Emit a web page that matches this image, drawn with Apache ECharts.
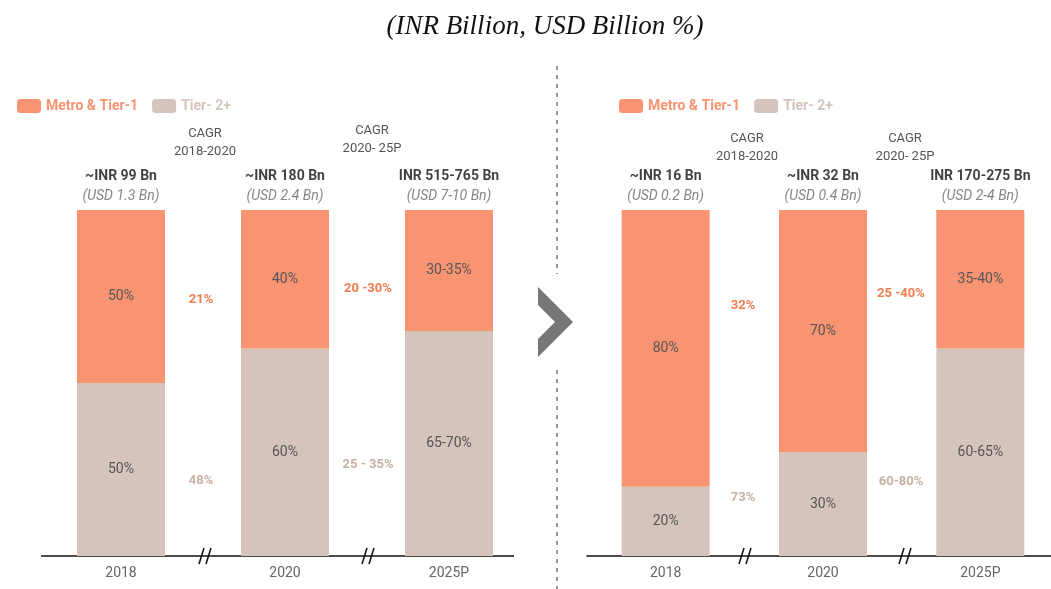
<!DOCTYPE html>
<html>
<head>
<meta charset="utf-8">
<script src="https://cdn.jsdelivr.net/npm/echarts@6/dist/echarts.min.js"></script>
<style>
  html, body { margin: 0; padding: 0; background: #fff; overflow: hidden; }
  #chart { width: 1070px; height: 589px; }
</style>
</head>
<body>
<div id="chart"></div>
<script>
var chartDom = document.getElementById('chart');
var myChart = echarts.init(chartDom, null, { renderer: 'canvas' });

var ORANGE = '#F89472';
var TAN = '#D5C4BB';
var ORANGE_TXT = '#F47A50';
var TAN_TXT = '#C7B0A3';

// categories
var years = ['2018', '2020', '2025P'];

// left panel: overall market (shares used for bar heights)
var leftMetro = [50, 40, 35];
var leftTier2 = [50, 60, 65];
var leftMetroLabels = ['50%', '40%', '30-35%'];
var leftTier2Labels = ['50%', '60%', '65-70%'];
var leftTotals = ['~INR 99 Bn', '~INR 180 Bn', 'INR 515-765 Bn'];
var leftUsd = ['(USD 1.3 Bn)', '(USD 2.4 Bn)', '(USD 7-10 Bn)'];
var leftCagrMetro = ['21%', '20 -30%'];
var leftCagrTier2 = ['48%', '25 - 35%'];

// right panel
var rightMetro = [80, 70, 40];
var rightTier2 = [20, 30, 60];
var rightMetroLabels = ['80%', '70%', '35-40%'];
var rightTier2Labels = ['20%', '30%', '60-65%'];
var rightTotals = ['~INR 16 Bn', '~INR 32 Bn', 'INR 170-275 Bn'];
var rightUsd = ['(USD 0.2 Bn)', '(USD 0.4 Bn)', '(USD 2-4 Bn)'];
var rightCagrMetro = ['32%', '25 -40%'];
var rightCagrTier2 = ['73%', '60-80%'];

var cagrPeriods = ['CAGR\n2018-2020', 'CAGR\n2020- 25P'];

function labelFrom(arr) {
    return function (p) { return arr[p.dataIndex]; };
}

function topFrom(totals, usd) {
    return function (p) {
        return '{a|' + totals[p.dataIndex] + '}\n{b|' + usd[p.dataIndex] + '}';
    };
}

function barSeries(name, idx, data, labels, color) {
    return {
        name: name,
        type: 'bar',
        stack: 's' + idx,
        xAxisIndex: idx,
        yAxisIndex: idx,
        barWidth: 88,
        data: data,
        itemStyle: { color: color },
        label: {
            show: true,
            position: 'inside',
            color: '#555',
            fontSize: 14,
            fontFamily: 'Roboto',
            formatter: labelFrom(labels)
        }
    };
}

function topSeries(idx, totals, usd) {
    return {
        type: 'scatter',
        xAxisIndex: idx,
        yAxisIndex: idx,
        symbolSize: 0,
        data: [100, 100, 100],
        silent: true,
        label: {
            show: true,
            position: 'top',
            distance: 4,
            formatter: topFrom(totals, usd),
            rich: {
                a: { fontSize: 14, fontWeight: 'bold', color: '#111', fontFamily: 'Roboto', lineHeight: 20 },
                b: { fontSize: 14, fontStyle: 'italic', color: '#666', fontFamily: 'Roboto', lineHeight: 20 }
            }
        }
    };
}

function xAxisFor(idx, showLine) {
    return {
        type: 'category',
        gridIndex: idx,
        data: years,
        axisLine: { show: showLine, lineStyle: { color: '#111', width: 1.5 } },
        axisTick: { show: false },
        axisLabel: { color: '#666', fontSize: 14, fontFamily: 'Roboto', margin: 10 }
    };
}

function yAxisFor(idx) {
    return { type: 'value', gridIndex: idx, min: 0, max: 100, show: false, splitLine: { show: false } };
}

function cagrTexts(xs, metroY, tier2Y, periodY, metro, tier2) {
    var out = [];
    for (var i = 0; i < xs.length; i++) {
        out.push({ type: 'text', style: { text: metro[i], x: xs[i], y: metroY[i], align: 'center', verticalAlign: 'middle', fill: ORANGE_TXT, font: 'bold 13px Roboto' } });
        out.push({ type: 'text', style: { text: tier2[i], x: xs[i], y: tier2Y[i], align: 'center', verticalAlign: 'middle', fill: TAN_TXT, font: 'bold 13px Roboto' } });
        out.push({ type: 'text', style: { text: cagrPeriods[i], x: xs[i] + 4, y: periodY[i], align: 'center', verticalAlign: 'middle', fill: '#555', font: '13px Roboto', lineHeight: 18 } });
    }
    return out;
}

function breakMark(x, y) {
    return [
        { type: 'line', shape: { x1: x - 6, y1: y + 8, x2: x - 1, y2: y - 8 }, style: { stroke: '#111', lineWidth: 1.6 } },
        { type: 'line', shape: { x1: x + 1, y1: y + 8, x2: x + 6, y2: y - 8 }, style: { stroke: '#111', lineWidth: 1.6 } }
    ];
}

var graphics = [];
// left baseline (shorter than the category grid on the right end)
graphics.push({ type: 'line', shape: { x1: 41, y1: 556, x2: 514, y2: 556 }, style: { stroke: '#111', lineWidth: 1.5 } });
graphics = graphics.concat(cagrTexts([201, 368], [300, 289], [481, 465], [143, 140], leftCagrMetro, leftCagrTier2));
graphics = graphics.concat(cagrTexts([743, 901], [306, 294], [498, 482], [148, 148], rightCagrMetro, rightCagrTier2));
graphics = graphics.concat(breakMark(205, 556), breakMark(368, 556), breakMark(745, 556), breakMark(905, 556));
graphics.push({ type: 'line', shape: { x1: 557, y1: 66, x2: 557, y2: 274 }, style: { stroke: '#777', lineWidth: 1.5, lineDash: [4, 5] } });
graphics.push({ type: 'line', shape: { x1: 557, y1: 370, x2: 557, y2: 589 }, style: { stroke: '#777', lineWidth: 1.5, lineDash: [4, 5] } });
graphics.push({ type: 'polygon', shape: { points: [[538, 287], [573, 322], [538, 357], [538, 339], [555, 322], [538, 305]] }, style: { fill: '#777' } });

var option = {
    backgroundColor: '#fff',
    animation: false,
    title: {
        text: '(INR Billion, USD Billion %)',
        left: 540,
        top: 8,
        textAlign: 'center',
        textStyle: { fontFamily: 'Liberation Serif', fontStyle: 'italic', fontWeight: 'normal', fontSize: 27, color: '#111' }
    },
    legend: [{
        left: 12, top: 94,
        itemWidth: 24, itemHeight: 14, itemGap: 14,
        data: [
            { name: 'Metro & Tier-1', textStyle: { color: ORANGE } },
            { name: 'Tier- 2+', textStyle: { color: TAN } }
        ],
        textStyle: { fontSize: 14, fontWeight: 'bold', fontFamily: 'Roboto' }
    }, {
        left: 614, top: 94,
        itemWidth: 24, itemHeight: 14, itemGap: 14,
        data: [
            { name: 'Metro & Tier-1', textStyle: { color: ORANGE } },
            { name: 'Tier- 2+', textStyle: { color: TAN } }
        ],
        textStyle: { fontSize: 14, fontWeight: 'bold', fontFamily: 'Roboto' }
    }],
    grid: [
        { left: 39, width: 492, top: 210, bottom: 33 },
        { left: 587, width: 472, top: 210, bottom: 33 }
    ],
    xAxis: [xAxisFor(0, false), xAxisFor(1, true)],
    yAxis: [yAxisFor(0), yAxisFor(1)],
    series: [
        barSeries('Tier- 2+', 0, leftTier2, leftTier2Labels, TAN),
        barSeries('Metro & Tier-1', 0, leftMetro, leftMetroLabels, ORANGE),
        topSeries(0, leftTotals, leftUsd),
        barSeries('Tier- 2+', 1, rightTier2, rightTier2Labels, TAN),
        barSeries('Metro & Tier-1', 1, rightMetro, rightMetroLabels, ORANGE),
        topSeries(1, rightTotals, rightUsd)
    ],
    graphic: graphics
};

option && myChart.setOption(option);
</script>
</body>
</html>
